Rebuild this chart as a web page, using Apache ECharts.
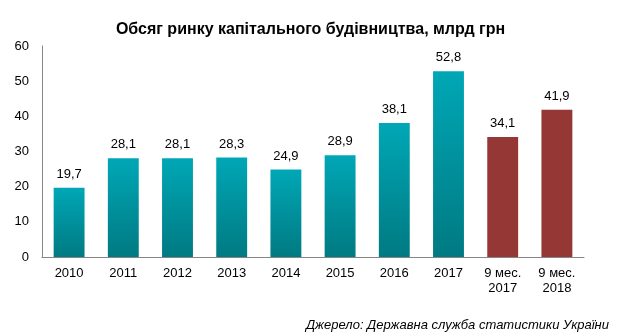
<!DOCTYPE html>
<html><head><meta charset="utf-8">
<script src="https://cdn.jsdelivr.net/npm/echarts@6/dist/echarts.min.js"></script>
<style>html,body{margin:0;padding:0;background:#fff}#c{width:621px;height:334px}</style>
</head><body><div id="c"></div>
<script>
const categories = ['2010','2011','2012','2013','2014','2015','2016','2017','9 мес.\n2017','9 мес.\n2018'];
const values = [19.7,28.1,28.1,28.3,24.9,28.9,38.1,52.8,34.1,41.9];
const highlighted = [false,false,false,false,false,false,false,false,true,true];
const yTicks = {min:0,max:60,interval:10};
const title = 'Обсяг ринку капітального будівництва, млрд грн';
const source = 'Джерело: Державна служба статистики України';

const teal = new echarts.graphic.LinearGradient(0,0,0,1,[{offset:0,color:'#00A7B6'},{offset:1,color:'#007A82'}]);
const red = '#953735';
const chart = echarts.init(document.getElementById('c'));
chart.setOption({
  animation:false,
  title:[{text:title,left:'center',top:17,textStyle:{fontFamily:'Liberation Sans',fontSize:16,fontWeight:'bold',color:'#000'}},
         {text:source,right:7,top:314,textStyle:{fontFamily:'Liberation Sans',fontSize:13,fontStyle:'italic',fontWeight:'normal',color:'#000'}}],
  grid:{left:42,right:37,top:46,bottom:77,containLabel:false},
  xAxis:{type:'category',data:categories,
    axisLine:{lineStyle:{color:'#868686',width:1}},axisTick:{show:false},
    axisLabel:{fontFamily:'Liberation Sans',fontSize:13,color:'#000',margin:9,lineHeight:15,interval:0}},
  yAxis:{type:'value',min:yTicks.min,max:yTicks.max,interval:yTicks.interval,
    axisLine:{show:true,lineStyle:{color:'#868686',width:1}},axisTick:{show:false},splitLine:{show:false},
    axisLabel:{fontFamily:'Liberation Sans',fontSize:13,color:'#000',margin:13}},
  series:[{type:'bar',barWidth:'57%',
    data:values.map((v,i)=>({value:v,itemStyle:{color:highlighted[i]?red:teal}})),
    label:{show:true,position:'top',distance:7,fontFamily:'Liberation Sans',fontSize:13,color:'#000',
      formatter:p=>p.value.toFixed(1).replace('.',',')}}]
});
</script></body></html>
